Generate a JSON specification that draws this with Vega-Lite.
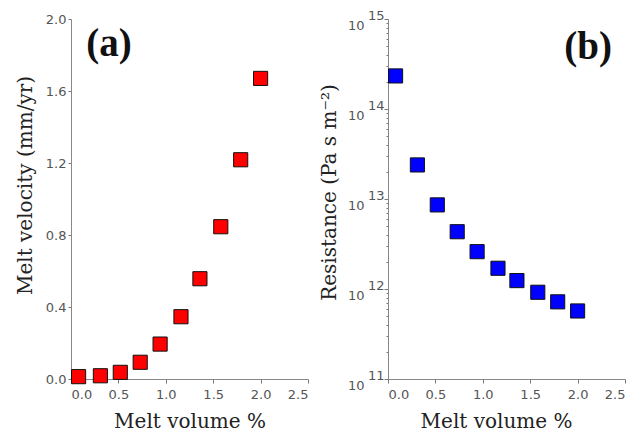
{
  "$schema": "https://vega.github.io/schema/vega-lite/v6.json",
  "padding": {"left": 15, "top": 10, "right": 5, "bottom": 5},
  "background": "white",
  "spacing": 10,
  "config": {
    "view": {"stroke": null},
    "axis": {
      "grid": false,
      "domainColor": "#888888",
      "tickColor": "#777777",
      "labelColor": "#555555",
      "labelFont": "DejaVu Sans",
      "labelFontSize": 13,
      "labelFontWeight": "normal",
      "titleFont": "DejaVu Serif",
      "titleFontSize": 20,
      "titleFontWeight": "normal",
      "titleColor": "#222222"
    }
  },
  "datasets": {
    "velocity": [
      {"melt": 0.08, "v": 0.013},
      {"melt": 0.31, "v": 0.018},
      {"melt": 0.52, "v": 0.037},
      {"melt": 0.73, "v": 0.093},
      {"melt": 0.94, "v": 0.194},
      {"melt": 1.16, "v": 0.346},
      {"melt": 1.36, "v": 0.557},
      {"melt": 1.58, "v": 0.846},
      {"melt": 1.79, "v": 1.218},
      {"melt": 2.0, "v": 1.67}
    ],
    "resistance": [
      {"melt": 0.08, "r": 2.33e14},
      {"melt": 0.31, "r": 2.39e13},
      {"melt": 0.52, "r": 8.6e12},
      {"melt": 0.73, "r": 4.33e12},
      {"melt": 0.94, "r": 2.6e12},
      {"melt": 1.16, "r": 1.7e12},
      {"melt": 1.36, "r": 1.24e12},
      {"melt": 1.58, "r": 9.2e11},
      {"melt": 1.79, "r": 7.2e11},
      {"melt": 2.0, "r": 5.7e11}
    ],
    "labelA": [{"melt": 0.4, "v": 1.86, "t": "(a)"}],
    "labelB": [{"melt": 2.11, "r": 4.9e14, "t": "(b)"}],
    "exps": [
      {"melt": -0.21, "r": 1e15, "t": "15"},
      {"melt": -0.21, "r": 1e14, "t": "14"},
      {"melt": -0.21, "r": 1e13, "t": "13"},
      {"melt": -0.21, "r": 1e12, "t": "12"},
      {"melt": -0.21, "r": 1e11, "t": "11"}
    ]
  },
  "hconcat": [
    {
      "width": 237,
      "height": 360,
      "layer": [
        {
          "data": {"name": "velocity"},
          "mark": {"type": "point", "shape": "square", "filled": true, "size": 200, "fill": "#ff0000", "stroke": "#111111", "strokeWidth": 1, "opacity": 1},
          "encoding": {
            "x": {
              "field": "melt", "type": "quantitative",
              "scale": {"domain": [0, 2.5], "nice": false, "zero": false},
              "axis": {
                "title": "Melt volume %",
                "values": [0, 0.25, 0.5, 0.75, 1, 1.25, 1.5, 1.75, 2, 2.25, 2.5],
                "labelExpr": "datum.value % 0.5 == 0 ? format(datum.value, '.1f') : ''",
                "tickSize": 4,
                "labelPadding": 5,
                "titlePadding": 10
              }
            },
            "y": {
              "field": "v", "type": "quantitative",
              "scale": {"domain": [0, 2], "nice": false, "zero": false},
              "axis": {
                "title": "Melt velocity (mm/yr)",
                "values": [0, 0.2, 0.4, 0.6, 0.8, 1.0, 1.2, 1.4, 1.6, 1.8, 2.0],
                "labelExpr": "round(datum.value * 10) % 4 == 0 ? format(datum.value, '.1f') : ''",
                "tickSize": 3,
                "labelPadding": 2,
                "titlePadding": 10,
                "titleY": 166
              }
            }
          }
        },
        {
          "data": {"name": "labelA"},
          "mark": {"type": "text", "font": "Liberation Serif", "fontWeight": "bold", "fontSize": 39, "align": "center", "baseline": "middle", "color": "#111111"},
          "encoding": {
            "x": {"field": "melt", "type": "quantitative"},
            "y": {"field": "v", "type": "quantitative"},
            "text": {"field": "t"}
          }
        }
      ]
    },
    {
      "width": 237,
      "height": 360,
      "layer": [
        {
          "data": {"name": "resistance"},
          "mark": {"type": "point", "shape": "square", "filled": true, "size": 200, "fill": "#0000ff", "stroke": "#111111", "strokeWidth": 1, "opacity": 1},
          "encoding": {
            "x": {
              "field": "melt", "type": "quantitative",
              "scale": {"domain": [0, 2.5], "nice": false, "zero": false},
              "axis": {
                "title": "Melt volume %",
                "values": [0, 0.25, 0.5, 0.75, 1, 1.25, 1.5, 1.75, 2, 2.25, 2.5],
                "labelExpr": "datum.value % 0.5 == 0 ? format(datum.value, '.1f') : ''",
                "tickSize": 4,
                "labelPadding": 5,
                "titlePadding": 10,
                "titleX": 108
              }
            },
            "y": {
              "field": "r", "type": "quantitative",
              "scale": {"type": "log", "domain": [1e11, 1e15], "nice": false},
              "axis": {
                "title": "Resistance (Pa s m⁻²)",
                "values": [1e11, 2e11, 3e11, 4e11, 5e11, 6e11, 7e11, 8e11, 9e11, 1e12, 2e12, 3e12, 4e12, 5e12, 6e12, 7e12, 8e12, 9e12, 1e13, 2e13, 3e13, 4e13, 5e13, 6e13, 7e13, 8e13, 9e13, 1e14, 2e14, 3e14, 4e14, 5e14, 6e14, 7e14, 8e14, 9e14, 1e15],
                "labelExpr": "abs(log(datum.value)/LN10 - round(log(datum.value)/LN10)) < 1e-6 ? '10' : ''",
                "tickSize": {"condition": {"test": "abs(log(datum.value)/LN10 - round(log(datum.value)/LN10)) < 1e-6", "value": 4}, "value": 2},
                "labelPadding": 20,
                "labelBaseline": "top",
                "labelDy": 1,
                "titlePadding": 8,
                "titleY": 173
              }
            }
          }
        },
        {
          "data": {"name": "exps"},
          "mark": {"type": "text", "font": "DejaVu Sans", "fontSize": 13, "align": "left", "baseline": "middle", "dy": -3, "color": "#555555"},
          "encoding": {
            "x": {"field": "melt", "type": "quantitative"},
            "y": {"field": "r", "type": "quantitative"},
            "text": {"field": "t"}
          }
        },
        {
          "data": {"name": "labelB"},
          "mark": {"type": "text", "font": "Liberation Serif", "fontWeight": "bold", "fontSize": 39, "align": "center", "baseline": "middle", "color": "#111111"},
          "encoding": {
            "x": {"field": "melt", "type": "quantitative"},
            "y": {"field": "r", "type": "quantitative"},
            "text": {"field": "t"}
          }
        }
      ]
    }
  ]
}
